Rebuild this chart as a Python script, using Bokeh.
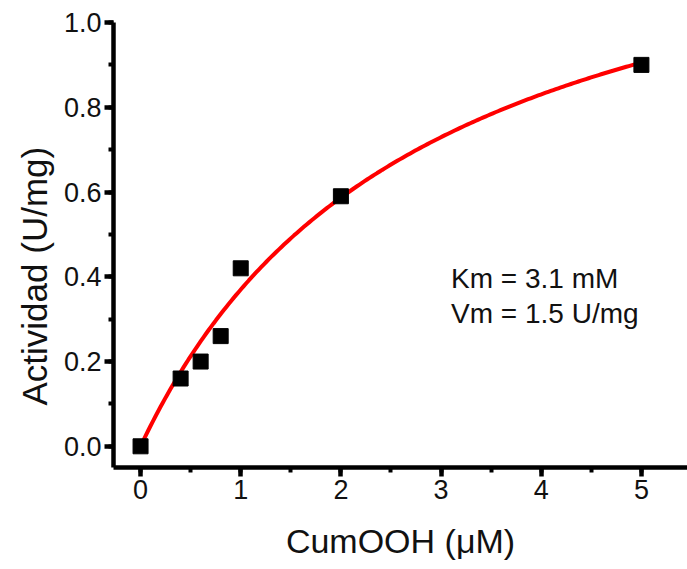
import numpy as np
from bokeh.plotting import figure
from bokeh.models import Range1d, SingleIntervalTicker, Label, CustomJSTickFormatter, Title
from bokeh.embed import file_html
from bokeh.resources import INLINE

# data
substrate = [0.0, 0.4, 0.6, 0.8, 1.0, 2.0, 5.0]
activity = [0.0, 0.16, 0.20, 0.26, 0.42, 0.59, 0.90]
# fitted Michaelis-Menten curve parameters
fit_km = 2.84
fit_vm = 1.42
annot_lines = ["Km = 3.1 mM", "Vm = 1.5 U/mg"]
x_title = "CumOOH (μM)"
y_title = "Actividad (U/mg)"

FONT = "Liberation Sans"
TXT = "#111111"

p = figure(width=687, height=569, output_backend="svg", toolbar_location=None,
           x_range=Range1d(-0.27, 5.46), y_range=Range1d(-0.05, 1.0),
           min_border_left=113, min_border_right=0, min_border_top=22,
           min_border_bottom=102)
p.outline_line_color = None
p.grid.visible = False
p.background_fill_color = "white"
p.border_fill_color = "white"

s = np.linspace(0, 5, 200)
p.line(s, fit_vm * s / (fit_km + s), line_color="#ff0000", line_width=4)
p.scatter(substrate, activity, marker="square", size=15, fill_color="black",
          line_color="black")

p.xaxis.ticker = SingleIntervalTicker(interval=1, num_minor_ticks=2)
p.yaxis.ticker = SingleIntervalTicker(interval=0.2, num_minor_ticks=2)
p.yaxis.formatter = CustomJSTickFormatter(code="return tick.toFixed(1)")

for ax in (p.xaxis, p.yaxis):
    ax.axis_line_width = 4.5
    ax.axis_line_color = "black"
    ax.major_tick_line_width = 4.5
    ax.minor_tick_line_width = 4
    ax.major_tick_out = 9
    ax.major_tick_in = 0
    ax.minor_tick_out = 5
    ax.minor_tick_in = 0
    ax.major_label_text_font = FONT
    ax.major_label_text_font_size = "27px"
    ax.major_label_text_color = TXT
    ax.axis_label_text_font = FONT
    ax.axis_label_text_font_size = "34px"
    ax.axis_label_text_font_style = "normal"
    ax.axis_label_text_color = TXT

p.xaxis.axis_label = x_title
p.xaxis.major_label_standoff = 3
p.yaxis.major_label_standoff = 3
p.xaxis.axis_label_standoff = 20

# y title placed in the left panel, shifted downward like the reference
p.add_layout(Title(text=y_title, align="left", offset=62, text_font=FONT,
                   text_font_size="35px", text_font_style="normal",
                   text_color=TXT, standoff=14), "left")

for i, txt in enumerate(annot_lines):
    p.add_layout(Label(x=3.1, y=0.396 - i * 0.083, text=txt,
                       text_font=FONT, text_font_size="28px",
                       text_baseline="middle", text_color=TXT))

open("out.html", "w").write(file_html(p, INLINE))
